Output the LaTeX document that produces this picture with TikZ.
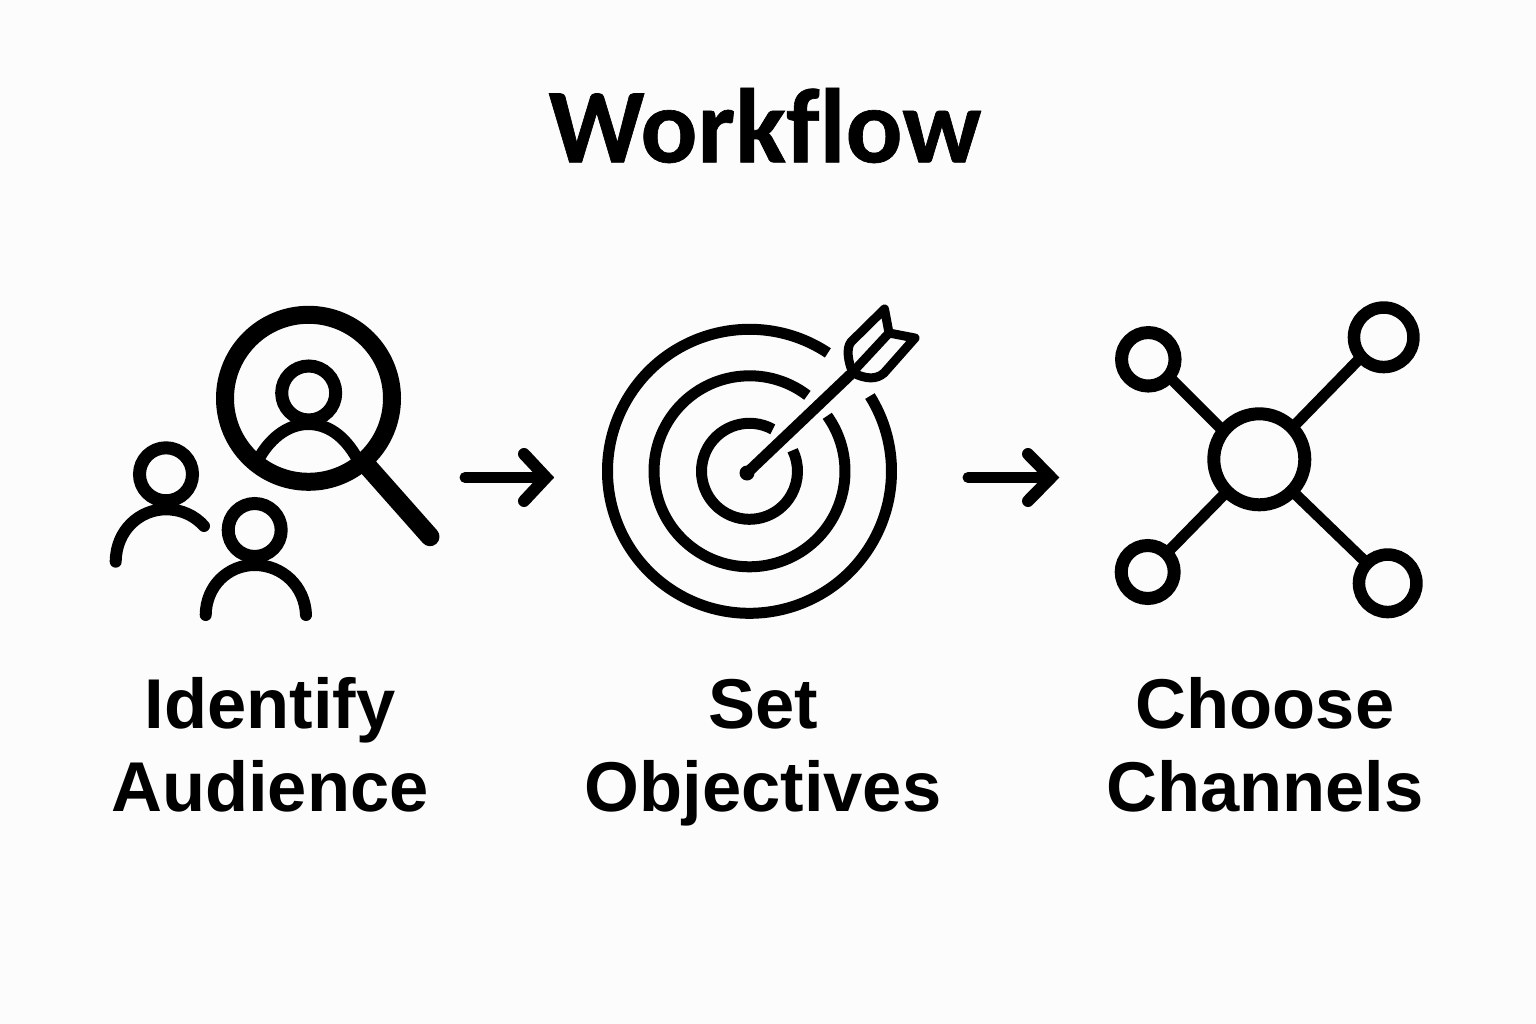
\documentclass[tikz,border=0pt]{standalone}
\usepackage{fontspec}
\newfontfamily\titlefont{Carlito}[BoldFont=Carlito Bold,BoldFeatures={FakeBold=0.6},Ligatures=NoCommon]
\newfontfamily\labelfont{Liberation Sans}[BoldFont=Liberation Sans Bold]
\tikzset{
  px/.style={x=1pt,y=-1pt},
  ring/.style={circle,draw=black,fill=none,inner sep=0pt},
  spoke/.style={draw=black,line width=11pt,shorten >=-4pt,shorten <=-4pt},
  curveline/.style={draw=black,line cap=round,line join=round,line width=#1},
  curveline/.default=12pt,
  titletext/.style={font=\fontsize{106}{106}\selectfont\titlefont\bfseries,text=black,anchor=base},
  labeltext/.style={font=\fontsize{70.5}{83}\selectfont\labelfont\bfseries,align=center,text=black,anchor=base},
}
\begin{document}
\begin{tikzpicture}[px]
\useasboundingbox[fill=white!99!black] (0,0) rectangle (1536,1024);
\node[titletext] (title) at (765,162.3) {Workflow};
% Magnifier
\node[ring,line width=18pt,minimum size=167pt] (lens) at (308.5,398.3) {};
\node[ring,line width=13pt,minimum size=54pt] (h0) at (308.7,393) {};
\draw[curveline=12pt,line cap=butt] (258,460) .. controls (272,434) and (292,424) .. (308,424) .. controls (326,424) and (344,434) .. (358,460);
\coordinate (hs) at (368,466.7);
\coordinate (he) at (430,536.7);
\draw[curveline=19pt] (hs) -- (he);
% People
\node[ring,line width=13pt,minimum size=53pt] (h1) at (166,474.3) {};
\draw[curveline=12pt] (115.7,561.7) .. controls (116,530) and (140,509.3) .. (166,509.3) .. controls (182,509.3) and (195,516) .. (204,526);
\node[ring,line width=13pt,minimum size=53pt] (h2) at (254.7,530) {};
\draw[curveline=12pt] (205.7,615) .. controls (206,586) and (228,565) .. (254.7,565) .. controls (282,565) and (305,586) .. (306,615);
% Arrow 1
\coordinate (a1s) at (465,477.5);
\coordinate (a1e) at (546,477.5);
\draw[curveline=11pt] (a1s) -- (a1e);
\draw[curveline=12pt,line join=miter] (524,454) -- (a1e) -- (524,501);
% Target
\coordinate (tc) at (749.5,471.3);
\draw[curveline=11pt,line cap=butt] (tc) ++(-56.5:142) arc[start angle=-56.5,end angle=-392,radius=142];
\draw[curveline=11pt,line cap=butt] (tc) ++(-52.7:95.5) arc[start angle=-52.7,end angle=-395.5,radius=95.5];
\draw[curveline=11pt,line cap=butt] (tc) ++(-61:48) arc[start angle=-61,end angle=-386,radius=48];
\coordinate (ds) at (747,473);
\coordinate (de) at (889,333);
\draw[curveline=11pt] (ds) -- (850,375);
\draw[curveline=9pt] (850,375) -- (de);
\fill (ds) circle[radius=7.5];
\draw[curveline=9pt] (de) -- (884.5,309) -- (851,342) .. controls (846,348) and (848,362) .. (853,373)
  .. controls (866,379) and (876,380) .. (884,373) -- (915,338) -- (de);
% Arrow 2
\coordinate (a2s) at (968,477.5);
\coordinate (a2e) at (1051,477.5);
\draw[curveline=11pt] (a2s) -- (a2e);
\draw[curveline=12pt,line join=miter] (1028,454) -- (a2e) -- (1028,501);
% Network
\node[ring,line width=13pt,minimum size=91pt] (cn) at (1259.3,459.3) {};
\node[ring,line width=13pt,minimum size=53.5pt] (tl) at (1148.3,359.3) {};
\node[ring,line width=12.5pt,minimum size=59.5pt] (tr) at (1383.7,337.3) {};
\node[ring,line width=13pt,minimum size=53pt] (bl) at (1147.7,572) {};
\node[ring,line width=12.5pt,minimum size=57.5pt] (br) at (1387.7,583.3) {};
\draw[spoke] (cn.141) -- (tl.-41);
\draw[spoke] (cn.44) -- (tr.222);
\draw[spoke] (cn.225) -- (bl.45);
\draw[spoke] (cn.-44) -- (br.136);
% Labels
\node[labeltext] (l1) at (270,811) {Identify\\Audience};
\node[labeltext] (l2) at (763,811) {Set\\Objectives};
\node[labeltext] (l3) at (1265,811) {Choose\\Channels};
\end{tikzpicture}
\end{document}
